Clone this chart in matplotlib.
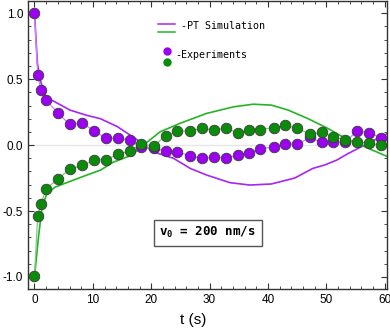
import numpy as np
import matplotlib.pyplot as plt
import matplotlib as mpl
from matplotlib.ticker import MultipleLocator

mpl.rcParams["font.family"] = ["Liberation Sans", "DejaVu Sans"]
mpl.rcParams["axes.linewidth"] = 1.0
# mathtext only used for the subscript in the velocity box
mpl.rcParams["mathtext.fontset"] = "custom"
mpl.rcParams["mathtext.rm"] = "DejaVu Sans Mono:bold"
mpl.rcParams["mathtext.it"] = "DejaVu Sans Mono:bold"
mpl.rcParams["mathtext.bf"] = "DejaVu Sans Mono:bold"

# ======================
# data
# ======================
t_exp = [0, 0.55, 1.1, 2.0, 4.1, 6.0, 8.2, 10.2, 12.2, 14.3, 16.3, 18.3, 20.4,
         22.5, 24.5, 26.6, 28.7, 30.7, 32.8, 34.8, 36.7, 38.7, 41.0, 43.0,
         45.0, 47.2, 49.2, 51.2, 53.3, 55.3, 57.4, 59.4]
exp_purple = [1.0, 0.53, 0.42, 0.34, 0.24, 0.157, 0.167, 0.108, 0.053, 0.05,
              0.04, -0.018, -0.025, -0.045, -0.05, -0.083, -0.10, -0.093,
              -0.096, -0.078, -0.06, -0.03, -0.013, 0.01, 0.005, 0.058, 0.02,
              0.02, 0.025, 0.108, 0.093, 0.055]
exp_green = [-0.99, -0.54, -0.445, -0.33, -0.255, -0.184, -0.154, -0.114,
             -0.111, -0.07, -0.045, 0.008, -0.008, 0.07, 0.104, 0.108, 0.126,
             0.114, 0.129, 0.093, 0.111, 0.118, 0.131, 0.149, 0.131, 0.081,
             0.098, 0.063, 0.038, 0.025, 0.013, 0.0]

t_sim_p = [0, 0.5, 1.0, 1.8, 2.1, 3.2, 6.1, 9.0, 11.3, 14.2, 17.6, 20.3,
           23.8, 26.7, 29.5, 33.5, 36.9, 40.6, 44.6, 47.7, 49.8, 51.8, 53.8,
           56.6, 60.6]
sim_purple = [1.0, 0.62, 0.49, 0.38, 0.355, 0.335, 0.265, 0.225, 0.2, 0.14,
              0.04, -0.05, -0.1, -0.177, -0.227, -0.285, -0.303, -0.295,
              -0.25, -0.177, -0.15, -0.114, -0.063, 0.0, 0.09]

t_sim_g = [0, 0.7, 1.3, 2.1, 3.5, 5.5, 9.0, 11.3, 13.5, 16.7, 18.7, 21.5,
           24.9, 29.5, 34.1, 37.5, 40.6, 43.5, 46.9, 50.3, 53.8, 56.6, 60.6]
sim_green = [-1.0, -0.69, -0.47, -0.37, -0.32, -0.285, -0.227, -0.19, -0.13,
             -0.076, 0.0, 0.1, 0.164, 0.24, 0.29, 0.31, 0.303, 0.265, 0.2,
             0.126, 0.038, -0.013, -0.089]

purple = "#9B00F2"
green = "#0A8C0A"
purple_line = "#A526F5"
green_line = "#26B426"

# ======================
# figure
# ======================
fig = plt.figure(figsize=(3.9, 3.32), dpi=100)
ax = fig.add_axes([0.072, 0.13, 0.92, 0.868])

ax.axhline(0, color="#e6e6e6", linewidth=1.0, zorder=0)

# simulation curves
ax.plot(t_sim_p, sim_purple, color=purple_line, linewidth=1.2, zorder=2)
ax.plot(t_sim_g, sim_green, color=green_line, linewidth=1.2, zorder=2)

# experiments (thin connecting line + points)
ax.plot(t_exp, exp_purple, color="#C98AF5", linewidth=0.9, zorder=2.5)
ax.plot(t_exp, exp_green, color="#7FCB7F", linewidth=0.9, zorder=2.5)
ax.plot(t_exp, exp_purple, linestyle="None", marker="o", markersize=7.6,
        markerfacecolor=purple, markeredgecolor="#3a3a3a",
        markeredgewidth=0.6, zorder=3)
ax.plot(t_exp, exp_green, linestyle="None", marker="o", markersize=7.6,
        markerfacecolor=green, markeredgecolor="#3a3a3a",
        markeredgewidth=0.6, zorder=3)

# ======================
# axes
# ======================
ax.set_xlim(-1.1, 60.4)
ax.set_ylim(-1.09, 1.095)
ax.xaxis.set_major_locator(MultipleLocator(10))
ax.xaxis.set_minor_locator(MultipleLocator(2))
ax.yaxis.set_major_locator(MultipleLocator(0.5))
ax.yaxis.set_minor_locator(MultipleLocator(0.1))
ax.tick_params(which="both", direction="in", top=True, right=True,
               labelsize=8.5, color="#333333")
ax.tick_params(which="major", length=4, width=0.8)
ax.tick_params(which="minor", length=2.5, width=0.6)
ax.yaxis.set_major_formatter(mpl.ticker.FormatStrFormatter("%.1f"))
for s in ax.spines.values():
    s.set_color("#333333")

ax.set_xlabel("t (s)", fontsize=11, labelpad=6)
ax.xaxis.set_label_coords(0.46, -0.085)

# ======================
# legend (hand drawn)
# ======================
mono = ["DejaVu Sans Mono"]
ax.plot([0.362, 0.409], [0.918, 0.918], transform=ax.transAxes,
        color=purple_line, linewidth=1.1)
ax.plot([0.362, 0.409], [0.891, 0.891], transform=ax.transAxes,
        color=green_line, linewidth=1.1)
ax.text(0.425, 0.912, "-PT Simulation", transform=ax.transAxes,
        family=mono, fontsize=7.2, va="center", ha="left")
ax.plot([0.387], [0.826], transform=ax.transAxes, marker="o", markersize=6,
        color=purple, markeredgewidth=0)
ax.plot([0.387], [0.788], transform=ax.transAxes, marker="o", markersize=6,
        color=green, markeredgewidth=0)
ax.text(0.411, 0.813, "-Experiments", transform=ax.transAxes,
        family=mono, fontsize=7.2, va="center", ha="left")

# velocity box
ax.text(29.7, -0.665, r"v$_0$ = 200 nm/s", family=mono, fontsize=9,
        fontweight="bold", ha="center", va="center",
        bbox=dict(boxstyle="square,pad=0.45", facecolor="white",
                  edgecolor="#555555", linewidth=1.0))

plt.savefig("out.png", dpi=100)
